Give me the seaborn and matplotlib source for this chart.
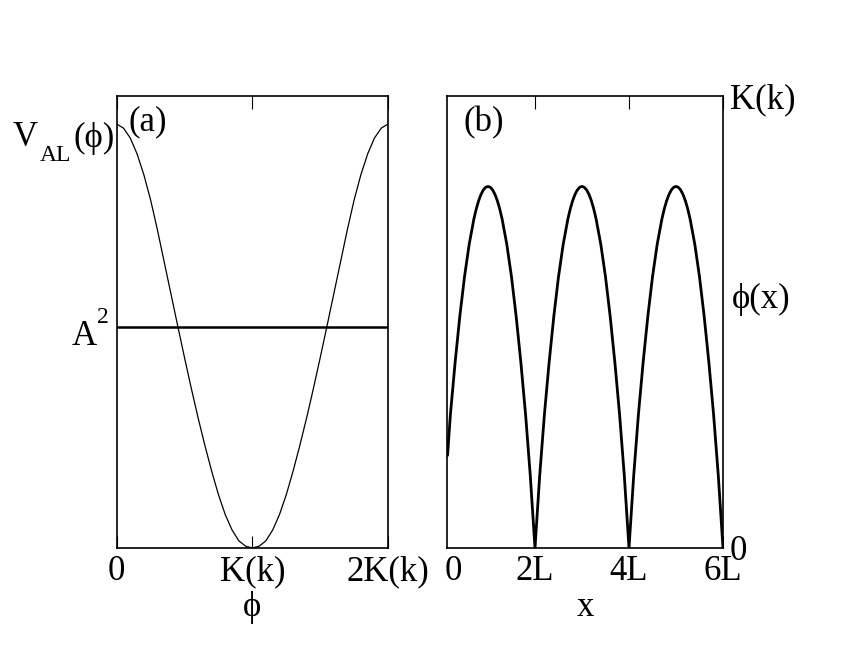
import matplotlib
matplotlib.use("Agg")
import matplotlib.pyplot as plt
import seaborn as sns

sns.set_theme(style="white")
plt.rcParams["font.family"] = ["Liberation Serif", "DejaVu Serif"]
plt.rcParams["text.color"] = "black"
plt.rcParams["axes.labelcolor"] = "black"
plt.rcParams["xtick.color"] = "black"
plt.rcParams["ytick.color"] = "black"

FS = 25
FS_SMALL = 17
PHI = "\u03d5"

# ---------------- Panel (a): potential V_AL(phi) ----------------
phi_a = [0.00, 0.05, 0.10, 0.15, 0.20, 0.25, 0.30, 0.35, 0.40, 0.45,
         0.50, 0.55, 0.60, 0.65, 0.70, 0.75, 0.80, 0.85, 0.90, 0.95,
         1.00, 1.05, 1.10, 1.15, 1.20, 1.25, 1.30, 1.35, 1.40, 1.45,
         1.50, 1.55, 1.60, 1.65, 1.70, 1.75, 1.80, 1.85, 1.90, 1.95, 2.00]
v_al = [0.938, 0.929, 0.907, 0.872, 0.826, 0.770, 0.704, 0.633, 0.562, 0.491,
        0.421, 0.353, 0.288, 0.227, 0.170, 0.118, 0.074, 0.040, 0.016, 0.004,
        0.000, 0.004, 0.016, 0.040, 0.074, 0.118, 0.170, 0.227, 0.288, 0.353,
        0.421, 0.491, 0.562, 0.633, 0.704, 0.770, 0.826, 0.872, 0.907, 0.929, 0.938]
a_sq_level = 0.489
v_top_level = 0.938
xticks_a = [0, 1, 2]
xticklabels_a = ["0", "K(k)", "2K(k)"]

# ---------------- Panel (b): phi(x) ----------------
x_b = [0.14, 0.2, 0.3, 0.4, 0.5, 0.6, 0.7, 0.75, 0.8, 0.85, 0.9, 0.95, 1.0,
       1.05, 1.1, 1.15, 1.2, 1.25, 1.3, 1.4, 1.5, 1.6, 1.7, 1.8, 1.9, 2.0,
       2.1, 2.2, 2.3, 2.4, 2.5, 2.6, 2.7, 2.75, 2.8, 2.85, 2.9, 2.95, 3.0,
       3.05, 3.1, 3.15, 3.2, 3.25, 3.3, 3.4, 3.5, 3.6, 3.7, 3.8, 3.9, 4.0,
       4.1, 4.2, 4.3, 4.4, 4.5, 4.6, 4.7, 4.75, 4.8, 4.85, 4.9, 4.95, 5.0,
       5.05, 5.1, 5.15, 5.2, 5.25, 5.3, 5.4, 5.5, 5.6, 5.7, 5.8, 5.9, 6.0]
phi_b = [0.205, 0.295, 0.410, 0.512, 0.600, 0.672, 0.728, 0.750, 0.768, 0.782, 0.792, 0.798, 0.800,
         0.798, 0.792, 0.782, 0.768, 0.750, 0.728, 0.672, 0.600, 0.512, 0.410, 0.295, 0.160, 0.000,
         0.160, 0.295, 0.410, 0.512, 0.600, 0.672, 0.728, 0.750, 0.768, 0.782, 0.792, 0.798, 0.800,
         0.798, 0.792, 0.782, 0.768, 0.750, 0.728, 0.672, 0.600, 0.512, 0.410, 0.295, 0.160, 0.000,
         0.160, 0.295, 0.410, 0.512, 0.600, 0.672, 0.728, 0.750, 0.768, 0.782, 0.792, 0.798, 0.800,
         0.798, 0.792, 0.782, 0.768, 0.750, 0.728, 0.672, 0.600, 0.512, 0.410, 0.295, 0.160, 0.000]
xticks_b = [0.255, 2, 4, 6]
xticklabels_b = ["0", "2L", "4L", "6L"]
yticks_b = [0, 1]
yticklabels_b = ["0", "K(k)"]

fig = plt.figure(figsize=(8.6, 6.64), dpi=100)
ax_a = fig.add_axes([0.1357, 0.1747, 0.3155, 0.6807])
ax_b = fig.add_axes([0.5201, 0.1747, 0.3206, 0.6807])

for ax in (ax_a, ax_b):
    for sp in ax.spines.values():
        sp.set_visible(True)
        sp.set_color("black")
        sp.set_linewidth(1.2)
    ax.set_facecolor("white")

# ---- panel (a)
sns.lineplot(x=phi_a, y=v_al, ax=ax_a, color="black", linewidth=0.9,
             estimator=None, sort=False)
ax_a.axhline(a_sq_level, color="black", linewidth=1.8)
ax_a.set_xlim(0, 2)
ax_a.set_ylim(0, 1)
ax_a.set_xticks(xticks_a)
ax_a.set_xticklabels(xticklabels_a, fontsize=FS)
ax_a.tick_params(axis="x", direction="in", length=9, width=0.8, top=True,
                 bottom=True, pad=5, color="black", labelcolor="black")
ax_a.set_yticks([])
ax_a.set_xlabel(PHI, fontsize=FS, labelpad=2, color="black")

ycoords = ("axes fraction", "data")
# V_AL(phi) label, built from pieces so the subscript sits low like the original
ax_a.annotate("V", xy=(0, v_top_level), xycoords=ycoords, xytext=(-74.7, -16),
              textcoords="offset points", ha="left", va="baseline", fontsize=FS)
ax_a.annotate("AL", xy=(0, v_top_level), xycoords=ycoords, xytext=(-55.2, -26.6),
              textcoords="offset points", ha="left", va="baseline", fontsize=FS_SMALL)
ax_a.annotate("(" + PHI + ")", xy=(0, v_top_level), xycoords=ycoords, xytext=(-1.2, -16.6),
              textcoords="offset points", ha="right", va="baseline", fontsize=FS)
# A^2 label
ax_a.annotate("A", xy=(0, a_sq_level), xycoords=ycoords, xytext=(-32.2, -13),
              textcoords="offset points", ha="left", va="baseline", fontsize=FS)
ax_a.annotate("2", xy=(0, a_sq_level), xycoords=ycoords, xytext=(-14.2, 2.9),
              textcoords="offset points", ha="left", va="baseline", fontsize=FS_SMALL)
ax_a.text(0.045, 0.944, "(a)", transform=ax_a.transAxes, ha="left",
          va="center", fontsize=FS)

# ---- panel (b)
sns.lineplot(x=x_b, y=phi_b, ax=ax_b, color="black", linewidth=2.0,
             estimator=None, sort=False)
ax_b.set_xlim(0.134, 6.0)
ax_b.set_ylim(0, 1)
ax_b.set_xticks(xticks_b)
ax_b.set_xticklabels(xticklabels_b, fontsize=FS)
ax_b.tick_params(axis="x", direction="in", length=9, width=0.8, top=True,
                 bottom=True, pad=5, color="black", labelcolor="black")
t0 = ax_b.xaxis.get_major_ticks()[0]
t0.tick1line.set_visible(False)
t0.tick2line.set_visible(False)
ax_b.yaxis.tick_right()
ax_b.set_yticks(yticks_b)
ax_b.set_yticklabels(yticklabels_b, fontsize=FS)
ax_b.tick_params(axis="y", length=0, pad=5, right=True, left=False,
                 labelcolor="black")
ax_b.set_xlabel("x", fontsize=FS, labelpad=2, color="black")
ax_b.text(1.033, 0.549, PHI + "(x)", transform=ax_b.transAxes, ha="left",
          va="center", fontsize=FS)
ax_b.text(0.057, 0.941, "(b)", transform=ax_b.transAxes, ha="left",
          va="center", fontsize=FS)

fig.savefig("out.png", dpi=100, facecolor="white")
